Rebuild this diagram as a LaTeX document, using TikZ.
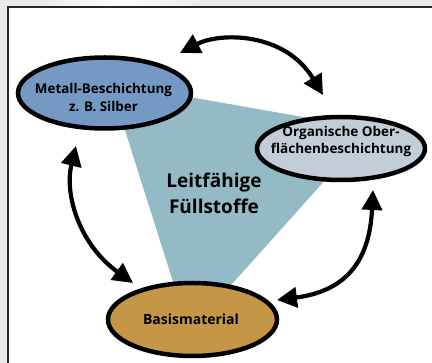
\documentclass[tikz,border=0pt]{standalone}
\usepackage{fontspec}
\setmainfont{Open Sans}
\usetikzlibrary{shapes.geometric,arrows.meta}
\definecolor{metallblue}{HTML}{7399C4}
\definecolor{orggray}{HTML}{C3CDD8}
\definecolor{basisgold}{HTML}{C59645}
\definecolor{trifill}{HTML}{94BAC6}
\definecolor{framegray}{HTML}{E9E9E9}
\tikzset{
  ellipsebox/.style={ellipse, draw=black, line width=4.5pt, inner sep=0pt},
  lbl/.style={align=center, inner sep=0pt, font=\fontsize{13.4}{17.5}\selectfont\bfseries},
  biarrow/.style={line width=4.2pt, {Triangle[length=20pt,width=20pt]}-{Triangle[length=20pt,width=20pt]}},
}
\begin{document}
\begin{tikzpicture}[x=1pt,y=-1pt]
\useasboundingbox (0,0) rectangle (432,363);
% background frame
\fill[framegray] (0,0) rectangle (432,363);
\shade[left color=framegray, right color=framegray, middle color=white] (40,0) rectangle (200,7);
\fill[white] (8,7) rectangle (432,363);
\draw[line width=2pt, black!85] (8,363) -- (8,7) -- (432,7);
% filler triangle
\fill[trifill] (110,83) -- (371,129) -- (189,332) -- cycle;
% ellipses
\node[ellipsebox, fill=metallblue, minimum width=173pt, minimum height=71pt] (metall) at (104.5,93) {};
\node[ellipsebox, fill=orggray, minimum width=168pt, minimum height=63pt] (org) at (341,148.5) {};
\node[ellipsebox, fill=basisgold, minimum width=169pt, minimum height=73pt] (basis) at (192.5,319.5) {};
% texts
\node[lbl] (metalltext) at (103.5,97.5) {Metall-Beschichtung\\z. B. Silber};
\node[lbl, font=\fontsize{13.5}{17}\selectfont\bfseries] (orgtext) at (341,141) {Organische Ober-\\flächenbeschichtung};
\node[lbl, font=\fontsize{14}{17}\selectfont\bfseries] (basistext) at (191,319.5) {Basismaterial};
\node[lbl, font=\fontsize{19}{26}\selectfont\bfseries] (fill) at (214,193) {Leitfähige\\Füllstoffe};
% arrow end points
\coordinate (a1) at (180,53);
\coordinate (a2) at (323,95);
\coordinate (b1) at (76,146);
\coordinate (b2) at (133,283);
\coordinate (c1) at (373,190);
\coordinate (c2) at (277,300);
\draw[biarrow] (a1) .. controls (220,32) and (285,32) .. (a2);
\draw[biarrow] (b1) .. controls (64,195) and (80,245) .. (b2);
\draw[biarrow] (c1) .. controls (370,250) and (355,290) .. (c2);
\end{tikzpicture}
\end{document}
